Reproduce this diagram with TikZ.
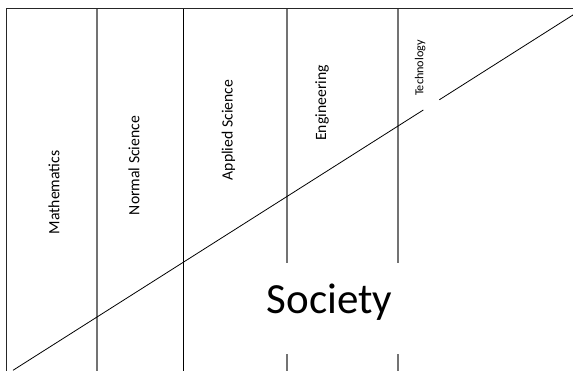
\documentclass[tikz,border=0pt]{standalone}
\usepackage{fontspec}
\setmainfont{Carlito}
\begin{document}
\begin{tikzpicture}[x=1pt,y=-1pt,
  frame/.style={draw=black!85,line width=1.8pt},
  divider/.style={draw=black!55,line width=1.1pt},
  maindivider/.style={draw=black,line width=0.9pt},
  slope/.style={draw=black,line width=0.8pt},
  field/.style={rotate=90,anchor=base,inner sep=0pt,font=\fontsize{15.7}{18}\selectfont},
  smallfield/.style={field,font=\fontsize{12.2}{14}\selectfont},
  big/.style={anchor=base,inner sep=0pt,font=\fontsize{43}{48}\selectfont}]
\useasboundingbox (0,0) rectangle (573,371);

% outer frame: left edge and top edge
\coordinate (tl) at (6.5,8.5);
\coordinate (bl) at (6.5,373);
\coordinate (tr) at (575,8.5);
\draw[frame] (bl) -- (tl) -- (tr);

% column dividers
\coordinate (d1t) at (97,9);   \coordinate (d1b) at (97,373);
\coordinate (d2t) at (183,9);  \coordinate (d2b) at (183,373);
\coordinate (d3t) at (287,9);  \coordinate (d3m) at (287,263);
\coordinate (d3n) at (287,354); \coordinate (d3b) at (287,373);
\coordinate (d4t) at (398,9);  \coordinate (d4m) at (398,263);
\coordinate (d4n) at (398,354); \coordinate (d4b) at (398,373);
\draw[divider] (d1t) -- (d1b);
\draw[maindivider] (d2t) -- (d2b);
\draw[divider] (d3t) -- (d3m) (d3n) -- (d3b);
\draw[divider] (d4t) -- (d4m) (d4n) -- (d4b);

% rising diagonal, interrupted near the last label
\coordinate (s0) at (13,370.3);
\coordinate (s1) at (423.3,110);
\coordinate (s2) at (439.3,99.8);
\coordinate (s3) at (575,13.7);
\draw[slope] (s0) -- (s1) (s2) -- (s3);

% field labels
\node[field] (math) at (59.3,192.5) {Mathematics};
\node[field] (normal) at (139.3,165.5) {Normal Science};
\node[field] (applied) at (232.5,130) {Applied Science};
\node[field] (eng) at (326,103) {Engineering};
\node[smallfield] (tech) at (423.3,68) {Technology};

\node[big] (society) at (329.5,313.3) {Society};
\end{tikzpicture}
\end{document}
